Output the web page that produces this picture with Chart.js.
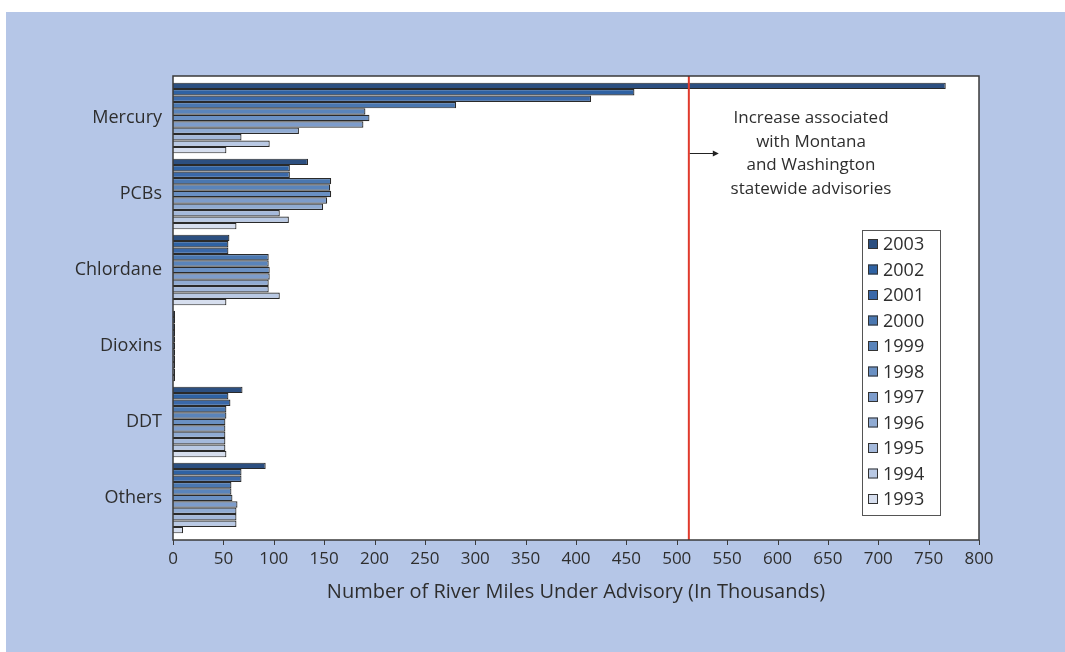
<!DOCTYPE html>
<html lang="en">
<head>
<meta charset="UTF-8">
<title>River Miles Under Advisory</title>
<script src="https://cdn.jsdelivr.net/npm/chart.js"></script>
<style>
  html, body { margin: 0; padding: 0; background: #fff; overflow: hidden; }
  #panel { position: absolute; left: 6px; top: 12px; right: 0; bottom: 0; background: #b5c6e7; }
  #wrap { position: absolute; left: 0; top: 0; width: 1065px; height: 652px; }
</style>
</head>
<body>
<div id="panel"></div>
<div id="wrap"><canvas id="chart" width="1065" height="652"></canvas></div>
<script>
  // categories (top to bottom) and one array per year
  const categories = ['Mercury', 'PCBs', 'Chlordane', 'Dioxins', 'DDT', 'Others'];
  const years = ['2003', '2002', '2001', '2000', '1999', '1998', '1997', '1996', '1995', '1994', '1993'];

  const s2003 = [767, 134, 56, 2, 69, 92];
  const s2002 = [458, 116, 55, 2, 55, 68];
  const s2001 = [415, 116, 55, 2, 57, 68];
  const s2000 = [281, 157, 95, 2, 53, 58];
  const s1999 = [191, 156, 95, 2, 53, 58];
  const s1998 = [195, 157, 96, 2, 52, 59];
  const s1997 = [189, 153, 96, 2, 52, 64];
  const s1996 = [125, 149, 95, 2, 52, 63];
  const s1995 = [68, 106, 95, 2, 52, 63];
  const s1994 = [96, 115, 106, 2, 52, 63];
  const s1993 = [53, 63, 53, 2, 53, 10];
  const series = [s2003, s2002, s2001, s2000, s1999, s1998, s1997, s1996, s1995, s1994, s1993];

  const colors = ['#2c4f80', '#2f62a3', '#3a68a8', '#4a77b0', '#5a84ba', '#6a90c3',
                  '#7d9ccb', '#90abd3', '#a4b9db', '#b9c9e4', '#d6deee'];

  const advisoryLine = 512;
  const noteLines = ['Increase associated', 'with Montana', 'and Washington', 'statewide advisories'];

  const textColor = '#2e2e2e';
  Chart.defaults.font.family = "'Open Sans', sans-serif";

  // white plot box behind the bars
  const plotBg = {
    id: 'plotBg',
    beforeDraw(chart) {
      const a = chart.chartArea;
      const ctx = chart.ctx;
      ctx.save();
      ctx.fillStyle = '#fff';
      ctx.fillRect(a.left, a.top - 4, a.right - a.left, a.bottom - a.top + 8);
      ctx.restore();
    }
  };

  // frame, red line, note, x tick marks and legend
  const extras = {
    id: 'extras',
    afterDraw(chart) {
      const ctx = chart.ctx;
      const x = chart.scales.x;
      const area = chart.chartArea;
      const top = area.top - 4, bottom = area.bottom + 4;
      ctx.save();

      // red line
      const rx = x.getPixelForValue(advisoryLine);
      ctx.strokeStyle = '#e03a2c';
      ctx.lineWidth = 2;
      ctx.beginPath();
      ctx.moveTo(rx, top);
      ctx.lineTo(rx, bottom);
      ctx.stroke();

      // arrow
      ctx.strokeStyle = '#222';
      ctx.lineWidth = 1;
      ctx.beginPath();
      ctx.moveTo(rx + 1, 153.5);
      ctx.lineTo(rx + 26, 153.5);
      ctx.stroke();
      ctx.fillStyle = '#222';
      ctx.beginPath();
      ctx.moveTo(rx + 30, 153.5);
      ctx.lineTo(rx + 24, 150.5);
      ctx.lineTo(rx + 24, 156.5);
      ctx.closePath();
      ctx.fill();

      // note
      ctx.fillStyle = textColor;
      ctx.font = "17px 'Open Sans', sans-serif";
      ctx.textAlign = 'center';
      ctx.textBaseline = 'middle';
      noteLines.forEach((t, i) => ctx.fillText(t, 811, 118 + i * 23.8));

      // frame
      ctx.strokeStyle = '#3a3a3a';
      ctx.lineWidth = 1.5;
      ctx.strokeRect(area.left, top, area.right - area.left, bottom - top);

      // x tick marks
      ctx.lineWidth = 1;
      x.ticks.forEach(t => {
        const px = Math.round(x.getPixelForValue(t.value)) + 0.5;
        ctx.beginPath();
        ctx.moveTo(px, bottom);
        ctx.lineTo(px, bottom + 5);
        ctx.stroke();
      });

      // legend
      ctx.fillStyle = '#fff';
      ctx.fillRect(862, 230, 78, 285);
      ctx.strokeStyle = '#555';
      ctx.strokeRect(862.5, 230.5, 78, 285);
      ctx.textAlign = 'left';
      ctx.font = "18px 'Open Sans', sans-serif";
      chart.data.datasets.forEach((ds, i) => {
        const y = 244 + i * 25.5;
        ctx.fillStyle = ds.backgroundColor;
        ctx.fillRect(868, y - 5, 10, 10);
        ctx.strokeStyle = '#333';
        ctx.strokeRect(868.5, y - 4.5, 9, 9);
        ctx.fillStyle = textColor;
        ctx.fillText(ds.label, 883, y + 1);
      });
      ctx.restore();
    }
  };

  new Chart(document.getElementById('chart'), {
    type: 'bar',
    data: {
      labels: categories,
      datasets: series.map((d, i) => ({
        label: years[i],
        data: d,
        backgroundColor: colors[i],
        borderColor: '#2a2a2a',
        borderWidth: 1.2,
        barPercentage: 1,
        categoryPercentage: 0.93
      }))
    },
    options: {
      indexAxis: 'y',
      responsive: false,
      animation: false,
      layout: { padding: { left: 0, top: 80, right: 86, bottom: 0 } },
      plugins: { legend: { display: false }, tooltip: { enabled: false } },
      scales: {
        x: {
          type: 'linear',
          min: 0,
          max: 800,
          ticks: { stepSize: 50, color: textColor, font: { size: 17 }, padding: 13, maxRotation: 0 },
          grid: { display: false, drawTicks: false },
          border: { display: false },
          title: {
            display: true,
            text: 'Number of River Miles Under Advisory (In Thousands)',
            color: textColor,
            font: { size: 20 },
            padding: { top: 0, bottom: 48 }
          },
          afterFit: s => { s.height = 116; }
        },
        y: {
          ticks: { color: textColor, font: { size: 18 }, padding: 11 },
          grid: { display: false, drawTicks: false },
          border: { display: false },
          afterFit: s => { s.width = 173; }
        }
      }
    },
    plugins: [plotBg, extras]
  });
</script>
</body>
</html>
